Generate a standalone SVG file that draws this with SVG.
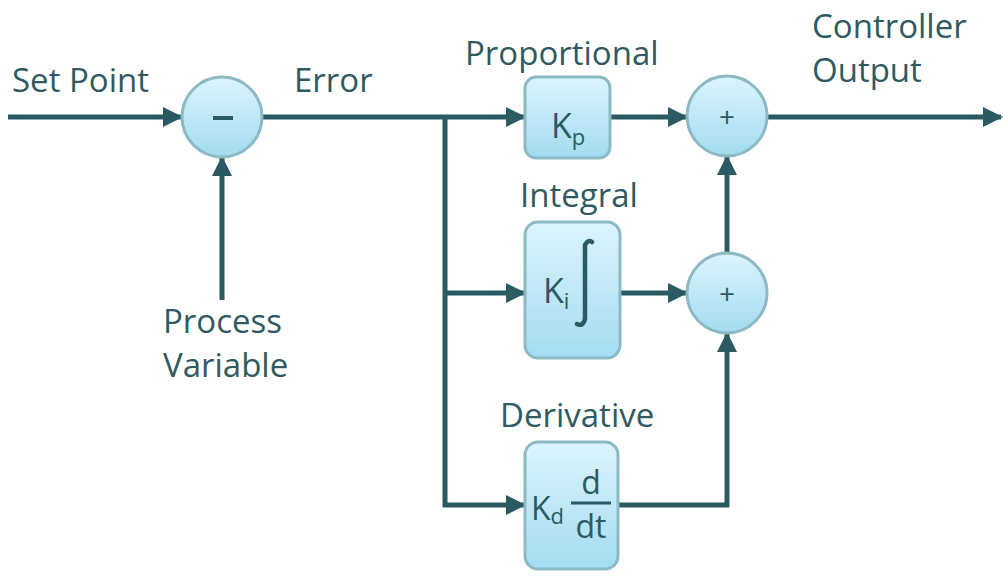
<svg xmlns="http://www.w3.org/2000/svg" width="1003" height="577" viewBox="0 0 1003 577">
<style>
.lbl{font-family:"Open Sans","Liberation Sans",sans-serif;font-size:33px;fill:#2f5a61;}
.in{font-family:"Open Sans","Liberation Sans",sans-serif;fill:#2a5a62;}
.blk{fill:url(#g);stroke:#8cb9c3;stroke-width:3;}
.ln{fill:none;stroke:#2b5a62;stroke-width:5;}
</style>
<defs>
<linearGradient id="g" x1="0" y1="0" x2="0" y2="1">
<stop offset="0" stop-color="#dcf4fc"/>
<stop offset="1" stop-color="#a3dcf1"/>
</linearGradient>
<marker id="a" viewBox="0 0 10 10" refX="9" refY="5" markerWidth="4" markerHeight="4" orient="auto" markerUnits="strokeWidth">
<path d="M0,0 L10,5 L0,10 z" fill="#2b5a62"/>
</marker>
</defs>
<rect width="1003" height="577" fill="#ffffff"/>
<g id="connectors">
<line class="ln" x1="8" y1="117" x2="181" y2="117" marker-end="url(#a)"/>
<line class="ln" x1="222" y1="300" x2="222" y2="158" marker-end="url(#a)"/>
<line class="ln" x1="262" y1="117" x2="524" y2="117" marker-end="url(#a)"/>
<polyline class="ln" points="445,117 445,505 524,505" marker-end="url(#a)"/>
<line class="ln" x1="445" y1="293" x2="524" y2="293" marker-end="url(#a)"/>
<line class="ln" x1="610" y1="117" x2="686" y2="117" marker-end="url(#a)"/>
<line class="ln" x1="620" y1="293" x2="686" y2="293" marker-end="url(#a)"/>
<polyline class="ln" points="618,505 727,505 727,334" marker-end="url(#a)"/>
<line class="ln" x1="727" y1="253" x2="727" y2="157" marker-end="url(#a)"/>
<line class="ln" x1="767" y1="117" x2="1001" y2="117" marker-end="url(#a)"/>
</g>
<g id="labels">
<text class="lbl" x="12" y="92">Set Point</text>
<text class="lbl" x="294" y="92">Error</text>
<text class="lbl" x="465" y="65">Proportional</text>
<text class="lbl" x="812" y="38">Controller</text>
<text class="lbl" x="812" y="82">Output</text>
<text class="lbl" x="163" y="333" font-size="32">Process</text>
<text class="lbl" x="163" y="377" font-size="32">Variable</text>
<text class="lbl" x="520" y="207">Integral</text>
<text class="lbl" x="500" y="427">Derivative</text>
</g>
<g id="sum1">
<circle cx="222" cy="117" r="40" class="blk"/>
<line x1="213" y1="118" x2="233" y2="118" stroke="#2b5a62" stroke-width="4"/>
</g>
<g id="kp">
<rect x="525" y="77" width="85" height="81" rx="11" class="blk"/>
<text class="in" x="551" y="138" font-size="34">K<tspan font-size="22" dy="7">p</tspan></text>
</g>
<g id="ki">
<rect x="525" y="222" width="95" height="136" rx="13" class="blk"/>
<text class="in" x="543" y="303" font-size="34">K<tspan font-size="22" dy="6">i</tspan></text>
<path d="M592,242 q-4,-3 -7,3 l0,74 q-2,8 -8,5" fill="none" stroke="#2a5a62" stroke-width="4.5" stroke-linecap="round"/>
</g>
<g id="kd">
<rect x="525" y="442" width="93" height="127" rx="13" class="blk"/>
<text class="in" x="531" y="520" font-size="32">K<tspan font-size="22" dy="4">d</tspan></text>
<text class="in" x="591" y="494" font-size="32" text-anchor="middle">d</text>
<line x1="571" y1="503" x2="611" y2="503" stroke="#2a5a62" stroke-width="3"/>
<text class="in" x="591" y="538" font-size="32" text-anchor="middle">dt</text>
</g>
<g id="sum2">
<circle cx="727" cy="116" r="40" class="blk"/>
<text class="in" x="727" y="127" font-size="28" text-anchor="middle">+</text>
</g>
<g id="sum3">
<circle cx="727" cy="293" r="40" class="blk"/>
<text class="in" x="727" y="304" font-size="28" text-anchor="middle">+</text>
</g>
</svg>
